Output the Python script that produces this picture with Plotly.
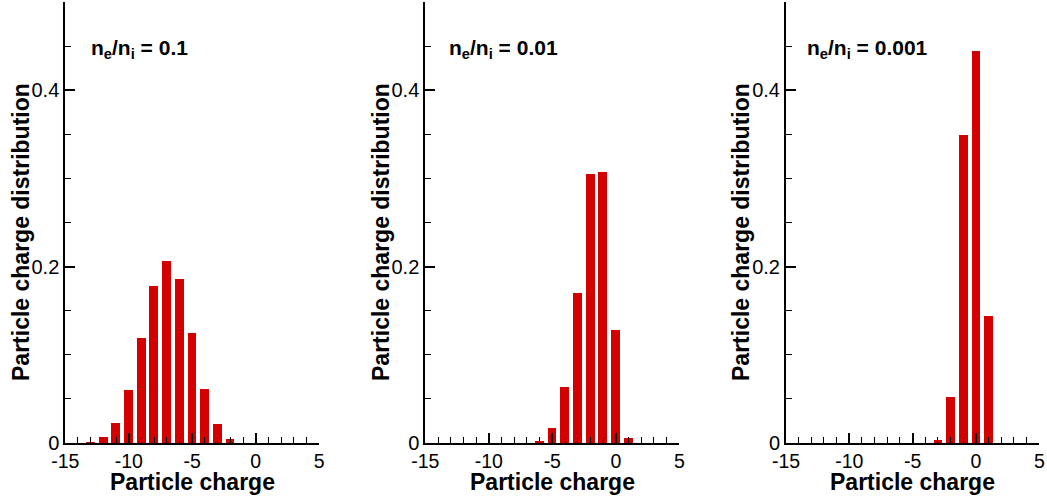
import plotly.graph_objects as go

# ---- data ----
charge1 = [-13, -12, -11, -10, -9, -8, -7, -6, -5, -4, -3, -2]
dist1 = [0.001, 0.0064, 0.0223, 0.0598, 0.119, 0.178, 0.2064, 0.186, 0.1246, 0.061, 0.0212, 0.0042]

charge2 = [-6, -5, -4, -3, -2, -1, 0, 1]
dist2 = [0.0019, 0.017, 0.063, 0.170, 0.305, 0.307, 0.128, 0.0057]

charge3 = [-3, -2, -1, 0, 1]
dist3 = [0.003, 0.052, 0.349, 0.445, 0.1443]

labels = ["n<sub>e</sub>/n<sub>i</sub> = 0.1",
          "n<sub>e</sub>/n<sub>i</sub> = 0.01",
          "n<sub>e</sub>/n<sub>i</sub> = 0.001"]

xtick_vals = [-15, -10, -5, 0, 5]
xtick_text = ["-15", "-10", "-5", "0", "5"]
ytick_vals = [0, 0.2, 0.4]
ytick_text = ["0", "0.2", "0.4"]

# ---- layout geometry ----
W, H = 1047, 500
FONT = "Liberation Sans, Arial, Helvetica, sans-serif"
BAR = "#D40000"
x_px = [(65.3, 319.2), (425.3, 679.3), (786.0, 1039.3)]
y_dom = [1 - 443 / H, 1 - 2 / H]
label_px = [88.5, 447.0, 805.0]
ytitle_px = [21, 381, 741]

fig = go.Figure()
series = [(charge1, dist1), (charge2, dist2), (charge3, dist3)]
for i, (cx, cy) in enumerate(series):
    k = "" if i == 0 else str(i + 1)
    fig.add_trace(go.Bar(x=cx, y=cy, width=0.7, marker=dict(color=BAR, line=dict(width=0)),
                         xaxis="x" + k, yaxis="y" + k, showlegend=False))
    xa = dict(domain=[x_px[i][0] / W, x_px[i][1] / W], range=[-15, 5], anchor="y" + k,
              showline=True, linecolor="black", linewidth=2, mirror=False,
              tickmode="array", tickvals=xtick_vals, ticktext=xtick_text,
              ticks="inside", ticklen=10, tickwidth=2, tickcolor="black",
              minor=dict(tickmode="linear", tick0=0, dtick=1, ticks="inside", ticklen=6,
                         tickwidth=1, tickcolor="black", showgrid=False),
              showgrid=False, zeroline=False, automargin=False,
              tickfont=dict(family=FONT, size=19.5, color="black"))
    ya = dict(domain=y_dom, range=[0, 0.5], anchor="x" + k,
              showline=True, linecolor="black", linewidth=2, mirror=False,
              tickmode="array", tickvals=ytick_vals, ticktext=ytick_text,
              ticks="inside", ticklen=10, tickwidth=2, tickcolor="black",
              minor=dict(tickmode="linear", tick0=0, dtick=0.05, ticks="inside", ticklen=6,
                         tickwidth=1, tickcolor="black", showgrid=False),
              showgrid=False, zeroline=False, automargin=False,
              tickfont=dict(family=FONT, size=20, color="black"))
    fig.update_layout(**{"xaxis" + k: xa, "yaxis" + k: ya})

ann = []
for i in range(3):
    ann.append(dict(text="<b>" + labels[i] + "</b>", xref="paper", yref="paper",
                    x=label_px[i] / W, y=1 - 34 / H, xanchor="left", yanchor="top",
                    showarrow=False, font=dict(family=FONT, size=21, color="black")))
    ann.append(dict(text="<b>Particle charge</b>", xref="paper", yref="paper",
                    x=(x_px[i][0] + x_px[i][1]) / 2 / W, y=1 - 482 / H,
                    xanchor="center", yanchor="middle", showarrow=False,
                    font=dict(family=FONT, size=23, color="black")))
    ann.append(dict(text="<b>Particle charge distribution</b>", xref="paper", yref="paper",
                    x=ytitle_px[i] / W, y=1 - 232 / H, textangle=-90,
                    xanchor="center", yanchor="middle", showarrow=False,
                    font=dict(family=FONT, size=23, color="black")))

fig.update_layout(width=W, height=H, margin=dict(l=0, r=0, t=0, b=0),
                  paper_bgcolor="white", plot_bgcolor="white",
                  template="none", bargap=0, annotations=ann,
                  font=dict(family=FONT, color="black"))

fig.write_html("out.html")
